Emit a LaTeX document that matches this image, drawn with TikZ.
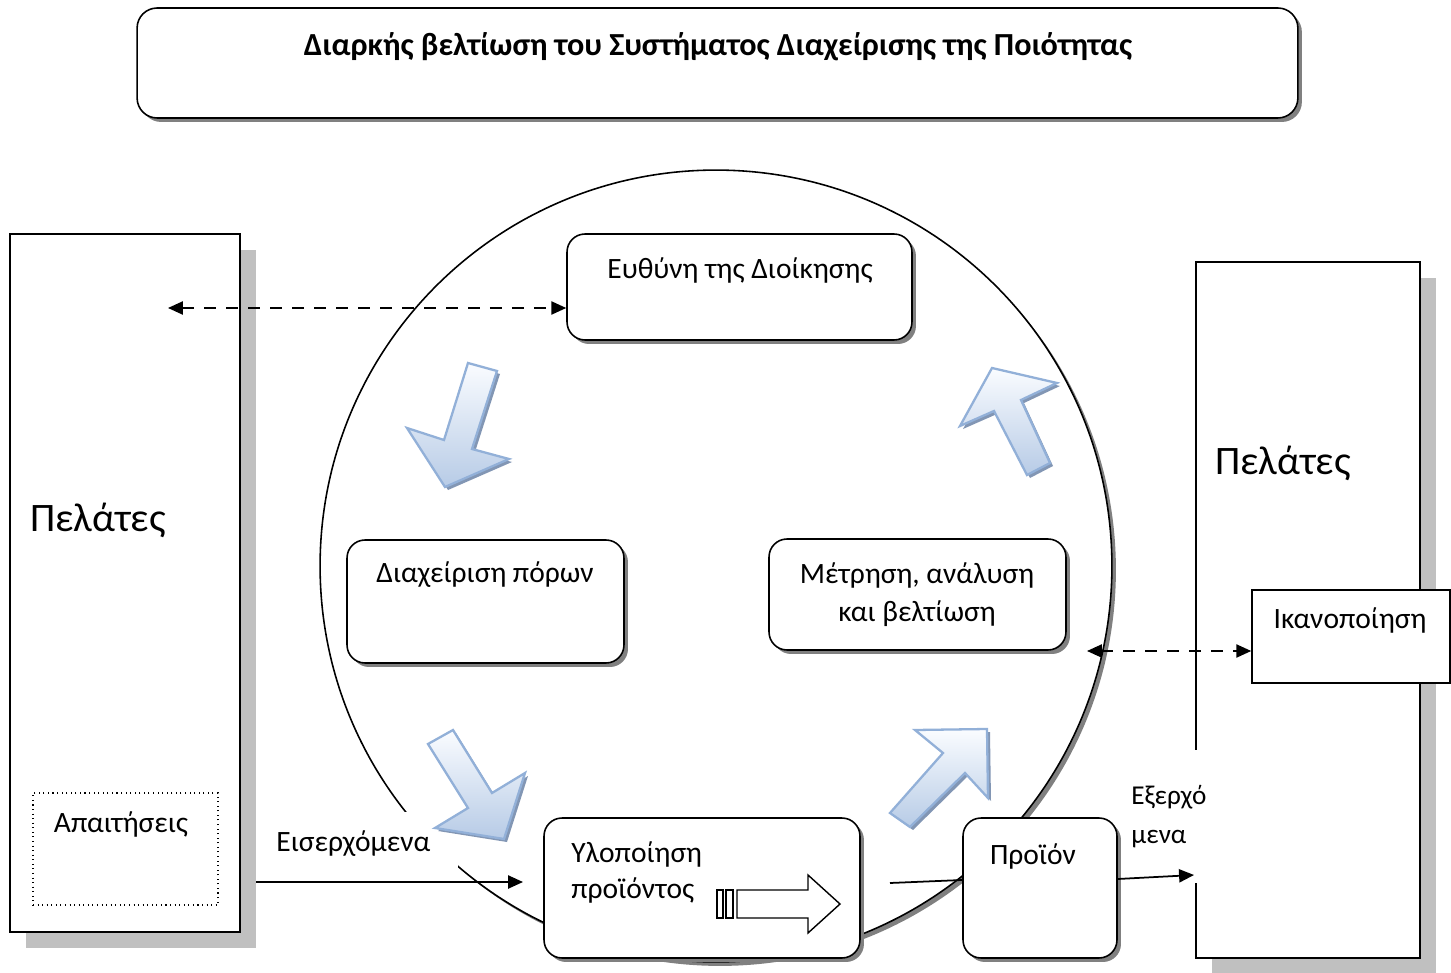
\documentclass[tikz,border=0pt]{standalone}
\usepackage{fontspec}
\setmainfont{Carlito}
\usetikzlibrary{shadows,arrows.meta}
\definecolor{abord}{RGB}{146,176,216}
\definecolor{atop}{RGB}{250,252,255}
\definecolor{abot}{RGB}{183,203,230}
\definecolor{ashad}{RGB}{130,150,180}
\definecolor{lshad}{RGB}{192,192,192}
\definecolor{dshad}{RGB}{128,128,128}
\newcommand{\fs}[2]{\fontsize{#1}{#2}\selectfont}
\newcommand{\blockarr}[1]{\fill[ashadow] #1 -- cycle; \path[barr] #1 -- cycle;}
\begin{document}
\begin{tikzpicture}[x=0.02cm,y=-0.02cm,
  rbox/.style={draw=black,line width=0.9pt,fill=white,rounded corners=0.36cm,inner sep=0pt,
     drop shadow={shadow xshift=0.08cm,shadow yshift=-0.08cm,fill=dshad,opacity=1}},
  bigbox/.style={draw=black,line width=0.9pt,fill=white,inner sep=0pt,
     drop shadow={shadow xshift=0.32cm,shadow yshift=-0.32cm,fill=lshad,opacity=1}},
  txt/.style={font=\fs{16.8}{22}, inner sep=0pt, align=center},
  big/.style={font=\fs{23}{26}, inner sep=0pt},
  tip/.style={-{Triangle[length=8.5pt,width=7.5pt]}},
  dtip/.style={{Triangle[length=8.5pt,width=7.5pt]}-{Triangle[length=8.5pt,width=7.5pt]}, dash pattern=on 6.8pt off 5.7pt},
  conn/.style={line width=1pt},
  barr/.style={draw=abord,line width=1.3pt,top color=atop,bottom color=abot,line join=miter},
  ashadow/.style={fill=ashad, shift={(3,3)}}
]
\useasboundingbox (0,0) rectangle (1451,973);

% title
\node[rbox, rounded corners=0.4cm, minimum width=23.22cm, minimum height=2.2cm] (title) at (717.5,63) {};
\node[font=\fs{18.3}{22}\bfseries, inner sep=0pt] (titletxt) at (718,47) {Διαρκής βελτίωση του Συστήματος Διαχείρισης της Ποιότητας};

% left customers
\node[bigbox, minimum width=4.6cm, minimum height=13.96cm] (lp) at (125,583) {};
\node[big] (lptxt) at (98,520) {Πελάτες};
\node[draw, dotted, line width=0.6pt, minimum width=3.7cm, minimum height=2.24cm, inner sep=0pt] (req) at (125.5,849) {};
\node[txt] (reqtxt) at (121,824) {Απαιτήσεις};

% right customers
\node[bigbox, minimum width=4.48cm, minimum height=13.92cm] (rp) at (1308,610) {};
\node[big] (rptxt) at (1283,463) {Πελάτες};

% circle
\node[circle, draw, line width=0.9pt, fill=white, minimum size=15.84cm, inner sep=0pt,
  drop shadow={shadow xshift=0.08cm,shadow yshift=-0.08cm,fill=dshad,opacity=1}] (circ) at (716,566) {};

% labels with white background
\node[anchor=north west, fill=white, font=\fs{16.8}{22}, inner xsep=0.22cm, inner ysep=0pt, text width=3.42cm, align=left, minimum height=1.24cm] (inlbl) at (265,812) {Εισερχόμενα};
\node[anchor=north west, fill=white, font=\fs{15.5}{22}, inner xsep=0.18cm, inner ysep=0pt, text width=1.8cm, align=left, minimum height=2.66cm] (outlbl) at (1122,750) {Εξερχό\\μενα};

% process boxes
\node[rbox, minimum width=6.9cm, minimum height=2.12cm] (euth) at (739.5,287) {};
\node[txt] (euthtxt) at (740,270) {Ευθύνη της Διοίκησης};
\node[rbox, minimum width=5.54cm, minimum height=2.46cm] (res) at (485.5,601.5) {};
\node[txt] (restxt) at (485,575) {Διαχείριση πόρων};
\node[rbox, minimum width=5.94cm, minimum height=2.22cm] (meas) at (917.5,594.5) {};
\node[txt] (meastxt) at (917,594.5) {Μέτρηση, ανάλυση\\και βελτίωση};
\node[rbox, minimum width=6.32cm, minimum height=2.8cm] (real) at (702,888) {};
\node[txt, font=\fs{16.8}{20}, align=left, anchor=west] (realtxt) at (571,872.5) {Υλοποίηση\\προϊόντος};
\node[rbox, minimum width=3.08cm, minimum height=2.8cm] (prod) at (1040,888) {};
\node[txt] (prodtxt) at (1033,856) {Προϊόν};

% satisfaction
\node[draw, line width=0.9pt, fill=white, minimum width=3.96cm, minimum height=1.86cm, inner sep=0pt] (sat) at (1351,636.5) {};
\node[txt] (sattxt) at (1350,620) {Ικανοποίηση};

% striped arrow inside realisation box
\draw[line width=0.8pt, fill=white, line join=miter] (737,890) -- (808,890) -- (808,875) -- (840,904) -- (808,933) -- (808,918) -- (737,918) -- cycle;
\draw[line width=0.8pt] (717,890) rectangle (723,918);
\draw[line width=0.8pt] (726,890) rectangle (733,918);

% block arrows
\blockarr{(468,363) -- (497,371) -- (472,449) -- (509,459) -- (445,487) -- (407,428) -- (444,440)}
\blockarr{(992,368) -- (1057,383) -- (1021,400) -- (1050,463) -- (1027,475) -- (994,411) -- (960,426)}
\blockarr{(428,744) -- (453,730) -- (492,793) -- (525,773) -- (504,839) -- (435,828) -- (468,808)}
\blockarr{(987,729) -- (988,798) -- (965,773) -- (910,827) -- (890,813) -- (943,753) -- (915,730)}

% connectors
\coordinate (dl) at (168,308);
\draw[conn,dtip] (dl) -- (dl -| euth.west);
\coordinate (dr) at (1087,651);
\draw[conn,dtip] (dr) -- (dr -| sat.west);
\coordinate (inA) at (256,882);
\coordinate (inB) at (523,882);
\draw[conn,tip] (inA) -- (inB);
\coordinate (mid) at (890,883);
\coordinate (pa) at ([yshift=0.16cm]prod.west);
\draw[conn] (mid) -- (pa);
\coordinate (outB) at (1194,875);
\draw[conn,tip] ([yshift=0.18cm]prod.east) -- (outB);
\end{tikzpicture}
\end{document}
